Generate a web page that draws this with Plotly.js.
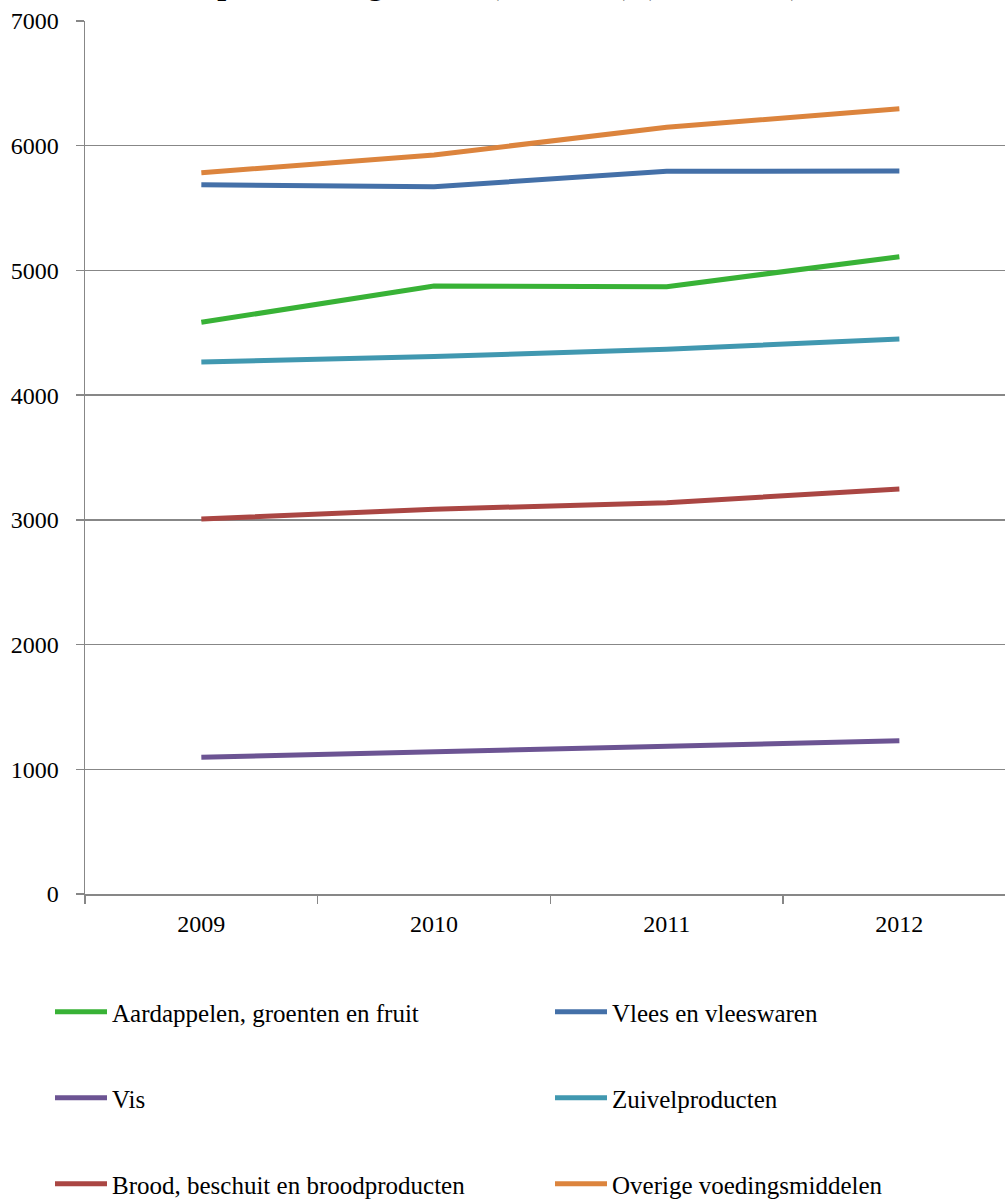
<!DOCTYPE html>
<html>
<head>
<meta charset="utf-8">
<script src="https://cdn.plot.ly/plotly-3.0.1.min.js"></script>
<style>html,body{margin:0;padding:0;background:#fff;}#chart{width:1005px;height:1199px;}</style>
</head>
<body>
<div id="chart"></div>
<script>
const years = ["2009", "2010", "2011", "2012"];
const aardappelen = [4584, 4875, 4870, 5110];
const vlees = [5687, 5671, 5795, 5797];
const vis = [1096, 1139, 1192, 1229];
const zuivel = [4266, 4309, 4368, 4450];
const brood = [3007, 3085, 3138, 3248];
const overige = [5784, 5926, 6148, 6297];
const seriesNames = ["Aardappelen, groenten en fruit", "Vlees en vleeswaren", "Vis", "Zuivelproducten", "Brood, beschuit en broodproducten", "Overige voedingsmiddelen"];
const colors = ["#38b236", "#4470a8", "#6c5493", "#4198b0", "#aa4643", "#dc843d"];
const legendIds = ["legend", "legend2", "legend3", "legend4", "legend5", "legend6"];
const allValues = [aardappelen, vlees, vis, zuivel, brood, overige];

const traces = allValues.map((vals, i) => ({
  x: years, y: vals, type: "scatter", mode: "lines", name: seriesNames[i],
  line: {color: colors[i], width: 5}, legend: legendIds[i]
}));

const serif = "Liberation Serif, Times New Roman, serif";
const tickFont = {family: serif, size: 24, color: "#000"};
const legFont = {family: serif, size: 25, color: "#000"};
function mkLegend(xpix, ypix) {
  return {orientation: "h", xref: "container", yref: "container", x: xpix/1005, y: 1 - ypix/1199,
    xanchor: "left", yanchor: "middle",
    itemwidth: 52, font: legFont, bgcolor: "rgba(0,0,0,0)", traceorder: "normal"};
}

const layout = {
  width: 1005, height: 1199,
  margin: {l: 85, r: 0, t: 21, b: 305},
  paper_bgcolor: "#fff", plot_bgcolor: "#fff",
  font: tickFont,
  title: {text: "<b>Consumptie voedingswaren (mln euro) (2009-2012)</b>", font: {family: serif, size: 32, color: "#000"},
    x: 0.45, xanchor: "center", yref: "container", y: 1, yanchor: "bottom", pad: {b: 6}},
  xaxis: {type: "category", range: [-0.5, 3.454], tickson: "boundaries", ticks: "outside", ticklen: 8,
    tickcolor: "#878787", tickwidth: 1.5, showline: true, linecolor: "#878787", linewidth: 1.5,
    showgrid: false, zeroline: false, tickfont: tickFont, ticklabelstandoff: 8},
  yaxis: {range: [0, 7000], dtick: 1000, ticks: "outside", ticklen: 8, tickcolor: "#878787", tickwidth: 1.5,
    showline: true, linecolor: "#878787", linewidth: 1.5, showgrid: true, gridcolor: "#878787", gridwidth: 1.5,
    zeroline: false, tickfont: tickFont, ticklabelstandoff: 12},
  showlegend: true,
  legend: mkLegend(50, 1012),
  legend2: mkLegend(550, 1012),
  legend3: mkLegend(50, 1098),
  legend4: mkLegend(550, 1098),
  legend5: mkLegend(50, 1184),
  legend6: mkLegend(550, 1184)
};

Plotly.newPlot("chart", traces, layout, {displayModeBar: false, staticPlot: true});
</script>
</body>
</html>
